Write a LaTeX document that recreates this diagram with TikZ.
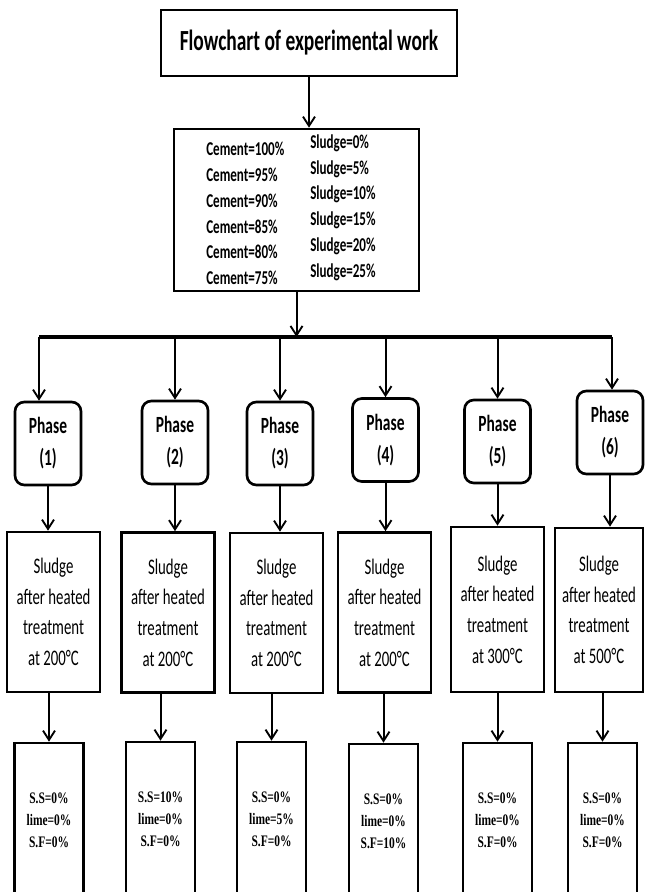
\documentclass[tikz,border=0pt]{standalone}
\usepackage{fontspec}
\setmainfont{Carlito}
\newfontfamily\tnr{Liberation Serif}
\usepackage{graphicx}
\usetikzlibrary{positioning,arrows.meta,calc}

% the scanned chart is stretched upright
\newcommand{\tall}[1]{\scalebox{1}[1.5]{#1}}
\newcommand{\tallr}[1]{\scalebox{1}[1.4]{#1}}

\begin{document}
\begin{tikzpicture}[
  x=0.75pt, y=-0.75pt,
  >={Straight Barb[length=7pt,width=9pt,line width=1.4pt]},
  titlebox/.style={draw, line width=2pt, minimum width=222pt, minimum height=49.5pt, font=\bfseries\fontsize{14.6}{18}\selectfont},
  mixbox/.style={draw, line width=2pt, minimum width=183.75pt, minimum height=121.5pt},
  mixcol/.style={anchor=west, align=left, inner sep=0pt, font=\bfseries\fontsize{9.8}{19.35}\selectfont},
  phasebox/.style={draw, line width=2pt, rounded corners=7pt, minimum width=49.5pt, minimum height=62.25pt, align=center, font=\bfseries\fontsize{11.6}{24}\selectfont},
  heatbox/.style={draw, line width=2pt, minimum width=69.75pt, minimum height=120pt, align=center, font=\fontsize{11.1}{23}\selectfont},
  ratiobox/.style={draw, line width=2pt, minimum width=51.75pt, minimum height=115.5pt, align=center, font=\tnr\bfseries\fontsize{8.6}{16.5}\selectfont},
  link/.style={->, line width=1.5pt},
  bus/.style={line width=2.5pt},
]
\useasboundingbox (0,0) rectangle (646,892);
\clip (0,0) rectangle (646,892);

% Title and mixes
\node[titlebox] (title) at (309,43) {\tall{Flowchart of experimental work}};
\node[mixbox] (mix) at (296.5,210) {};
\node[mixcol] (cement) at (206,213.5) {\tall{Cement=100\%}\\ \tall{Cement=95\%}\\ \tall{Cement=90\%}\\
  \tall{Cement=85\%}\\ \tall{Cement=80\%}\\ \tall{Cement=75\%}};
\node[mixcol] (sludge) at (310,207.5) {\tall{Sludge=0\%}\\ \tall{Sludge=5\%}\\ \tall{Sludge=10\%}\\
  \tall{Sludge=15\%}\\ \tall{Sludge=20\%}\\ \tall{Sludge=25\%}};
\draw[link] (title.south) -- (title.south |- mix.north);

% Distribution bus
\coordinate (busL) at (39,337);
\coordinate (busR) at (612,337);
\draw[bus] (busL) -- (busR);
\draw[link] (mix.south) -- (mix.south |- busL);

% Phases
\node[phasebox] (p1) at (48,443.5) {\tall{Phase}\\ \tall{(1)}};
\node[phasebox] (p2) at (175,442.5) {\tall{Phase}\\ \tall{(2)}};
\node[phasebox] (p3) at (280,443.5) {\tall{Phase}\\ \tall{(3)}};
\node[phasebox] (p4) at (385.5,440) {\tall{Phase}\\ \tall{(4)}};
\node[phasebox] (p5) at (497.5,441.5) {\tall{Phase}\\ \tall{(5)}};
\node[phasebox] (p6) at (610,432.5) {\tall{Phase}\\ \tall{(6)}};

\draw[link] (busL) -- (busL |- p1.north);
\draw[link] (p2.north |- busL) -- (p2.north);
\draw[link] (p3.north |- busL) -- (p3.north);
\draw[link] (p4.north |- busL) -- (p4.north);
\draw[link] (p5.north |- busL) -- (p5.north);
\draw[link] (busR) -- (busR |- p6.north);

% Heat treatment
\node[heatbox] (s1) at (53.5,612) {\tall{Sludge}\\ \tall{after heated}\\ \tall{treatment}\\ \tall{at 200°C}};
\node[heatbox] (s2) at (168,612.5) {\tall{Sludge}\\ \tall{after heated}\\ \tall{treatment}\\ \tall{at 200°C}};
\node[heatbox] (s3) at (276.5,613) {\tall{Sludge}\\ \tall{after heated}\\ \tall{treatment}\\ \tall{at 200°C}};
\node[heatbox] (s4) at (384.5,612.5) {\tall{Sludge}\\ \tall{after heated}\\ \tall{treatment}\\ \tall{at 200°C}};
\node[heatbox, minimum height=123.75pt] (s5) at (497.5,609.5) {\tall{Sludge}\\ \tall{after heated}\\ \tall{treatment}\\ \tall{at 300°C}};
\node[heatbox, minimum height=123pt, minimum width=66pt] (s6) at (599,610) {\tall{Sludge}\\ \tall{after heated}\\ \tall{treatment}\\ \tall{at 500°C}};

\foreach \i in {1,...,6}
  \draw[link] (p\i.south) -- (p\i.south |- s\i.north);

% Additives
\node[ratiobox] (r1) at (49,820) {\tallr{S.S=0\%}\\ \tallr{lime=0\%}\\ \tallr{S.F=0\%}};
\node[ratiobox] (r2) at (160.5,819) {\tallr{S.S=10\%}\\ \tallr{lime=0\%}\\ \tallr{S.F=0\%}};
\node[ratiobox] (r3) at (271.5,819) {\tallr{S.S=0\%}\\ \tallr{lime=5\%}\\ \tallr{S.F=0\%}};
\node[ratiobox] (r4) at (383.5,821) {\tallr{S.S=0\%}\\ \tallr{lime=0\%}\\ \tallr{S.F=10\%}};
\node[ratiobox] (r5) at (497.5,820) {\tallr{S.S=0\%}\\ \tallr{lime=0\%}\\ \tallr{S.F=0\%}};
\node[ratiobox] (r6) at (602.5,820) {\tallr{S.S=0\%}\\ \tallr{lime=0\%}\\ \tallr{S.F=0\%}};

\foreach \i in {1,...,6}
  \draw[link] (r\i.north |- s\i.south) -- (r\i.north);

\end{tikzpicture}
\end{document}
